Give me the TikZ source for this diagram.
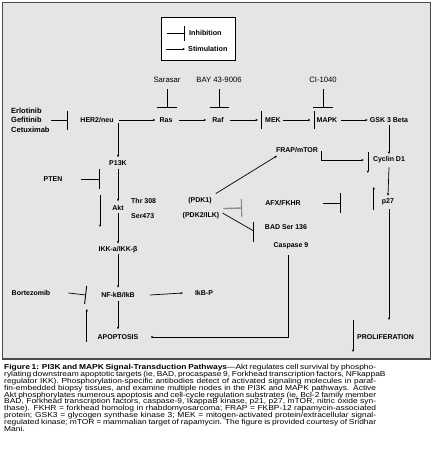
\documentclass[tikz,border=0pt]{standalone}
\usepackage{fontspec}
\setmainfont{Liberation Sans}
\newfontfamily\capfam[FakeStretch=1.17]{Liberation Sans}
\usetikzlibrary{arrows.meta,calc}
\definecolor{bggray}{HTML}{E4E5E6}
\definecolor{framec}{HTML}{4A4A4A}
\definecolor{pdkgray}{HTML}{8C8C8C}
\newcommand\lblfont{\fontsize{7}{8}\selectfont\bfseries}
\newcommand\legfont{\fontsize{7.2}{8}\selectfont\bfseries}
\newcommand\drugfont{\fontsize{7.7}{9}\selectfont}
\newcommand\egcfont{\fontsize{7.5}{9.5}\selectfont\bfseries}
\newcommand\capfont{\capfam\fontsize{7.2}{6.9}\selectfont}
\newcommand\capline[1]{\makebox[372pt][s]{#1}\\}
\begin{document}
\begin{tikzpicture}[x=1pt,y=-1pt,
  lbl/.style={font=\lblfont, inner sep=0pt},
  drug/.style={font=\drugfont, inner sep=0pt},
  stim/.style={line width=0.7pt, -{Stealth[length=2.6pt,width=2.2pt]}},
  inhib/.style={line width=0.7pt, -{Bar[width=#1,line width=0.9pt]}},
  barln/.style={line width=0.9pt},
  plain/.style={line width=0.7pt}]
\useasboundingbox (0,0) rectangle (433,459);
\fill[white] (0,0) rectangle (433,459);
\draw[fill=bggray, draw=framec, line width=1.3pt] (2.5,2.5) rectangle (430.5,359);

% legend
\node[draw=black, fill=white, line width=0.8pt, minimum width=74pt, minimum height=43pt, anchor=north west, inner sep=0pt] (legend) at (161,17) {};
\coordinate (li1) at (167,33);
\coordinate (li2) at (185,33);
\draw[inhib=15pt] (li1) -- (li2);
\node[font=\legfont, inner sep=0pt, anchor=west] (inhtxt) at (189,33) {Inhibition};
\coordinate (ls1) at (166,49);
\coordinate (ls2) at (185,49);
\draw[stim] (ls1) -- (ls2);
\node[font=\legfont, inner sep=0pt, anchor=west] (stimtxt) at (188,49) {Stimulation};

% drugs on top
\node[drug] (sar) at (167,80) {Sarasar};
\node[drug] (bay) at (219,80) {BAY 43-9006};
\node[drug] (ci) at (323,80) {CI-1040};
\coordinate (sarT) at (167,108);
\coordinate (bayT) at (219,108);
\coordinate (ciT) at (323,108);
\draw[inhib=20pt] ([yshift=-6pt]sar.south) -- (sarT);
\draw[inhib=19pt] ([yshift=-6pt]bay.south) -- (bayT);
\draw[inhib=20pt] ([yshift=-6pt]ci.south) -- (ciT);

% main row
\node[font=\egcfont, inner sep=0pt, anchor=west, align=left] (egc) at (11,120) {Erlotinib\\Gefitinib\\Cetuximab};
\node[lbl] (her) at (97,120) {HER2/neu};
\node[lbl] (ras) at (166,120) {Ras};
\node[lbl] (raf) at (218,120) {Raf};
\node[lbl] (mek) at (273,120) {MEK};
\node[lbl] (mapk) at (327,120) {MAPK};
\node[lbl] (gsk) at (389,120) {GSK 3 Beta};
\coordinate (egcT) at (68,120);
\draw[inhib=19pt] ([xshift=-17pt]egcT) -- (egcT);
\draw[stim] ([xshift=5pt]her.east) -- ([xshift=-4pt]ras.west);
\draw[stim] ([xshift=6pt]ras.east) -- ([xshift=-6pt]raf.west);
\draw[stim] ([xshift=6pt]raf.east) -- ([xshift=-7pt]mek.west);
\draw[barln] ([xshift=-4pt,yshift=9pt]mek.west) -- ([xshift=-4pt,yshift=-9pt]mek.west);
\draw[stim] ([xshift=2pt]mek.east) -- ([xshift=-6pt]mapk.west);
\draw[barln] ([xshift=-2pt,yshift=9pt]mapk.west) -- ([xshift=-2pt,yshift=-9pt]mapk.west);
\draw[stim] ([xshift=3pt]mapk.east) -- ([xshift=-2pt]gsk.west);

% right column
\node[lbl] (cyc) at (389,160) {Cyclin D1};
\node[lbl] (frap) at (297,150) {FRAP/mTOR};
\node[lbl] (p27) at (388,202) {p27};
\node[lbl, anchor=west] (prol) at (357,337) {PROLIFERATION};
\node[lbl] (afx) at (283,203) {AFX/FKHR};
\draw[stim] ([yshift=-2pt]gsk.south) -- ([yshift=2.5pt]cyc.north);
\draw[stim] ([xshift=-5pt,yshift=8pt]cyc.west) -- ([xshift=-5pt,yshift=-13pt]cyc.west);
\draw[stim] ([xshift=3pt,yshift=-1pt]frap.east) |- ([xshift=-9pt]cyc.west);
\draw[stim] ([yshift=-4pt]cyc.south) -- ([yshift=3pt]p27.north);
\draw[stim] ([xshift=-8pt,yshift=-8pt]p27.west) -- ([xshift=-8pt,yshift=15pt]p27.west);
\coordinate (prolT) at (389,320);
\draw[stim] ([xshift=1pt,yshift=-4pt]p27.south) -- (prolT);
\draw[stim] ([xshift=-4pt,yshift=17pt]prol.west) -- ([xshift=-4pt,yshift=-15pt]prol.west);
\draw[inhib=20pt] ([xshift=22pt]afx.east) -- ([xshift=40pt]afx.east);

% PDK area
\node[lbl] (pdk1) at (200,201) {(PDK1)};
\node[lbl] (pdk2) at (201,216) {(PDK2/ILK)};
\node[lbl] (bad) at (286,227) {BAD Ser 136};
\node[lbl] (casp) at (291,246) {Caspase 9};
\draw[stim] ([xshift=4pt,yshift=4pt]pdk1.north east) -- ([xshift=-20pt,yshift=-3pt]frap.south);
\draw[pdkgray, line width=1.4pt, -{Bar[width=18pt,line width=1.1pt]}] ([xshift=4pt,yshift=4pt]pdk2.north east) -- ([xshift=-23pt,yshift=-5pt]afx.west);
\draw[plain] ([xshift=3pt,yshift=3pt]pdk2.east) -- ([xshift=-11pt,yshift=-4pt]bad.west);
\draw[barln] ([xshift=-11pt,yshift=5pt]bad.west) -- ([xshift=-11pt,yshift=-15pt]bad.west);

% left column
\node[lbl] (p13k) at (118,163) {P13K};
\node[lbl] (akt) at (118,208) {Akt};
\node[lbl] (pten) at (53,179) {PTEN};
\node[lbl, anchor=west] (thr) at (131,201) {Thr 308};
\node[lbl, anchor=west] (ser) at (131,216) {Ser473};
\node[lbl] (ikk) at (118,250) {IKK-a/IKK-β};
\node[lbl] (nfkb) at (118,295) {NF-kB/IkB};
\node[lbl] (bort) at (31,293) {Bortezomib};
\node[lbl] (ikbp) at (204,293) {IkB-P};
\node[lbl] (apop) at (118,337) {APOPTOSIS};
\draw[stim] (p13k.north |- her.south) ++(0,0.5) -- ([yshift=3pt]p13k.north);
\draw[stim] ([yshift=-3pt]p13k.south) -- ([yshift=4pt]akt.north);
\coordinate (ptenT) at (100,179);
\draw[inhib=20pt] ([xshift=18pt]pten.east) -- (ptenT);
\coordinate (dl1) at (100,195);
\coordinate (dl2) at (100,227);
\draw[stim] (dl1) -- (dl2);
\draw[stim] ([yshift=-2.5pt]akt.south) -- ([yshift=3pt]ikk.north);
\draw[stim] ([yshift=-1pt]ikk.south) -- ([yshift=4.5pt]nfkb.north);
\draw[inhib=18pt] ([xshift=18pt]bort.east) -- ([xshift=-15pt]nfkb.west);
\draw[stim] ([xshift=15pt]nfkb.east) -- ([xshift=-12pt]ikbp.west);
\draw[stim] ([yshift=-3pt]nfkb.south) -- ([yshift=5pt]apop.north);
\draw[stim] ([xshift=-10.6pt,yshift=-5pt]apop.west) -- ([xshift=-10.6pt,yshift=28pt]apop.west);
\draw[stim] ([xshift=-3pt,yshift=-6pt]casp.south) |- ([xshift=12pt]apop.east);

% caption
\node[font=\capfont, inner sep=0pt, anchor=north west, align=left] (cap) at (4,364) {%
\capline{\textbf{Figure 1: PI3K and MAPK Signal-Transduction Pathways}—Akt regulates cell survival by phospho-}%
\capline{rylating downstream apoptotic targets (ie, BAD, procaspase 9, Forkhead transcription factors, NFkappaB}%
\capline{regulator IKK). Phosphorylation-specific antibodies detect of activated signaling molecules in paraf-}%
\capline{fin-embedded biopsy tissues, and examine multiple nodes in the PI3K and MAPK pathways. Active}%
\capline{Akt phosphorylates numerous apoptosis and cell-cycle regulation substrates (ie, Bcl-2 family member}%
\capline{BAD, Forkhead transcription factors, caspase-9, IkappaB kinase, p21, p27, mTOR, nitric oxide syn-}%
\capline{thase). FKHR = forkhead homolog in rhabdomyosarcoma; FRAP = FKBP-12 rapamycin-associated}%
\capline{protein; GSK3 = glycogen synthase kinase 3; MEK = mitogen-activated protein/extracellular signal-}%
\capline{regulated kinase; mTOR = mammalian target of rapamycin. The figure is provided courtesy of Sridhar}%
Mani.};
\end{tikzpicture}
\end{document}
